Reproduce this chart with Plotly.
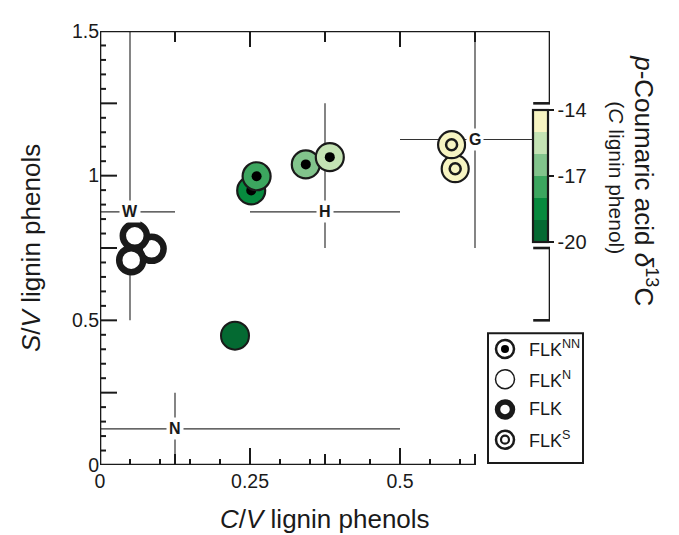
import plotly.graph_objects as go

# ---------------- data ----------------
flk_nn_x = [0.252, 0.261, 0.343, 0.383]
flk_nn_y = [0.949, 0.998, 1.039, 1.064]
flk_nn_d13c = [-18.5, -17.5, -16.5, -15.5]

flk_n_x = [0.225]
flk_n_y = [0.447]
flk_n_d13c = [-19.5]

flk_x = [0.086, 0.058, 0.052]
flk_y = [0.747, 0.792, 0.708]

flk_s_x = [0.592, 0.586]
flk_s_y = [1.024, 1.107]
flk_s_d13c = [-14.5, -14.5]

ref_labels = ["W", "H", "G", "N"]
ref_x = [0.05, 0.375, 0.625, 0.125]
ref_y = [0.875, 0.875, 1.125, 0.125]
ref_xmin = [0.0, 0.25, 0.5, 0.0]
ref_xmax = [0.125, 0.5, 0.72, 0.5]
ref_ymin = [0.5, 0.75, 0.75, 0.0]
ref_ymax = [1.5, 1.25, 1.5, 0.25]

band_colors = ["#046a32", "#078a3e", "#3ca65f", "#82c48c", "#c4e3b4", "#f7f4c2"]  # -20 .. -14
cbar_tickvals = [-14, -17, -20]
cbar_ticktext = ["-14", "-17", "-20"]

x_tickvals = [0, 0.25, 0.5]
x_ticktext = ["0", "0.25", "0.5"]
y_tickvals = [0, 0.5, 1, 1.5]
y_ticktext = ["0", "0.5", "1", "1.5"]

legend_labels = ["FLK<sup>NN</sup>", "FLK<sup>N</sup>", "FLK", "FLK<sup>S</sup>"]

# ---------------- styling ----------------
FONT = "Arial, Liberation Sans, Helvetica, sans-serif"
INK = "#1a1a1a"
LINE = "#333333"

# plot area in pixels (page coordinates of the reference)
PL, PR, PT, PB = 100, 550, 20, 465
PW, PH = PR - PL, PB - PT
def px(xp):
    return (xp - PL) / PW
def py(yp):
    return (PB - yp) / PH

colorscale = []
n = len(band_colors)
for i, c in enumerate(band_colors):
    colorscale.append([i / n, c])
    colorscale.append([(i + 1) / n, c])

fig = go.Figure()

# colored FLK^NN points (circle + central dot, drawn one by one for proper overlap)
for i in range(len(flk_nn_x)):
    fig.add_trace(go.Scatter(
        x=[flk_nn_x[i]], y=[flk_nn_y[i]], mode="markers", showlegend=False,
        marker=dict(size=28, color=[flk_nn_d13c[i]], coloraxis="coloraxis",
                    line=dict(width=2.2, color=INK))))
    fig.add_trace(go.Scatter(
        x=[flk_nn_x[i]], y=[flk_nn_y[i]], mode="markers", showlegend=False,
        marker=dict(size=10, color="black", line=dict(width=0))))

# FLK^N
fig.add_trace(go.Scatter(
    x=flk_n_x, y=flk_n_y, mode="markers", showlegend=False,
    marker=dict(size=28, color=flk_n_d13c, coloraxis="coloraxis",
                line=dict(width=2, color=INK))))

# FLK (no isotope data -> white)
fig.add_trace(go.Scatter(
    x=flk_x, y=flk_y, mode="markers", showlegend=False,
    marker=dict(size=24, color="white", line=dict(width=6.5, color=INK))))

# FLK^S (circle + inner ring)
for i in range(len(flk_s_x)):
    fig.add_trace(go.Scatter(
        x=[flk_s_x[i]], y=[flk_s_y[i]], mode="markers", showlegend=False,
        marker=dict(size=27, color=[flk_s_d13c[i]], coloraxis="coloraxis",
                    line=dict(width=2.2, color=INK))))
    fig.add_trace(go.Scatter(
        x=[flk_s_x[i]], y=[flk_s_y[i]], mode="markers", showlegend=False,
        marker=dict(size=11, symbol="circle-open", color=INK, line=dict(width=2.5, color=INK))))

shapes = []
annotations = []

# reference crosshairs
for lab, cx, cy, x0, x1, y0, y1 in zip(ref_labels, ref_x, ref_y, ref_xmin, ref_xmax, ref_ymin, ref_ymax):
    shapes.append(dict(type="line", xref="x", yref="y", x0=x0, x1=x1, y0=cy, y1=cy,
                       line=dict(color=LINE, width=1.2), layer="below"))
    shapes.append(dict(type="line", xref="x", yref="y", x0=cx, x1=cx, y0=y0, y1=y1,
                       line=dict(color=LINE, width=1.2), layer="below"))
    annotations.append(dict(x=cx, y=cy, xref="x", yref="y", text="<b>%s</b>" % lab,
                            xanchor="center", yanchor="middle",
                            showarrow=False, bgcolor="white", borderpad=2,
                            font=dict(family=FONT, size=16, color=INK)))

# frame lines
AX_W = 2.6
def seg(x0, y0, x1, y1, w=AX_W):
    shapes.append(dict(type="line", xref="x", yref="y", x0=x0, x1=x1, y0=y0, y1=y1,
                       line=dict(color=INK, width=w), layer="above"))

seg(0, 0, 0, 1.5)          # left
seg(0, 0, 0.625, 0)        # bottom
seg(0, 1.5, 0.75, 1.5)     # top
seg(0.75, 1.5, 0.75, 1.25)  # right bracket (upper)
seg(0.722, 1.25, 0.75, 1.25)
seg(0.75, 0.75, 0.75, 0.5)  # right bracket (lower)
seg(0.722, 0.75, 0.75, 0.75)
seg(0.722, 0.5, 0.75, 0.5)

# ticks
TW = 2.0
def vtick(xv, yanchor, length):
    shapes.append(dict(type="line", xref="x", yref="y", ysizemode="pixel", yanchor=yanchor,
                       x0=xv, x1=xv, y0=0, y1=length, line=dict(color=INK, width=TW), layer="above"))
def htick(yv, length):
    shapes.append(dict(type="line", xref="x", yref="y", xsizemode="pixel", xanchor=0,
                       x0=0, x1=length, y0=yv, y1=yv, line=dict(color=INK, width=TW), layer="above"))

for k in range(1, 13):            # bottom: every 0.05
    xv = round(k * 0.05, 3)
    vtick(xv, 0, 17 if k % 5 == 0 else 6)
for xv in [0.125, 0.375, 0.625]:
    vtick(xv, 0, 11)
for xv in [0.125, 0.375, 0.625]:  # top
    vtick(xv, 1.5, -11)
for xv in [0.25, 0.5]:
    vtick(xv, 1.5, -16)
for k in range(1, 30):            # left: every 0.05
    yv = round(k * 0.05, 3)
    htick(yv, 17 if k % 5 == 0 else 6)

# legend box + entries
LEG_L, LEG_R, LEG_T, LEG_B = 488, 583, 330, 463
ROW0, ROWSTEP = 346, 31
shapes.append(dict(type="rect", xref="paper", yref="paper", x0=px(LEG_L), x1=px(LEG_R),
                   y0=py(LEG_B), y1=py(LEG_T),
                   line=dict(color=INK, width=2), fillcolor="white", layer="below"))

rows = list(range(len(legend_labels)))
mk_x = (505 - LEG_L) / (PR - LEG_L)
tx_x = (527 - LEG_L) / (PR - LEG_L)
fig.add_trace(go.Scatter(x=[mk_x], y=[rows[0]], xaxis="x2", yaxis="y2", mode="markers", showlegend=False,
                         marker=dict(size=18, color="white", line=dict(width=2.5, color=INK))))
fig.add_trace(go.Scatter(x=[mk_x], y=[rows[0]], xaxis="x2", yaxis="y2", mode="markers", showlegend=False,
                         marker=dict(size=8, color="black")))
fig.add_trace(go.Scatter(x=[mk_x], y=[rows[1]], xaxis="x2", yaxis="y2", mode="markers", showlegend=False,
                         marker=dict(size=19, color="white", line=dict(width=1.5, color=INK))))
fig.add_trace(go.Scatter(x=[mk_x], y=[rows[2]], xaxis="x2", yaxis="y2", mode="markers", showlegend=False,
                         marker=dict(size=15, color="white", line=dict(width=5.5, color=INK))))
fig.add_trace(go.Scatter(x=[mk_x], y=[rows[3]], xaxis="x2", yaxis="y2", mode="markers", showlegend=False,
                         marker=dict(size=18, color="white", line=dict(width=2.5, color=INK))))
fig.add_trace(go.Scatter(x=[mk_x], y=[rows[3]], xaxis="x2", yaxis="y2", mode="markers", showlegend=False,
                         marker=dict(size=8, symbol="circle-open", color=INK, line=dict(width=2.2, color=INK))))
for r, lab in zip(rows, legend_labels):
    annotations.append(dict(x=tx_x, y=r, xref="x2", yref="y2", text=lab, showarrow=False,
                            xanchor="left", yanchor="middle", font=dict(family=FONT, size=18, color=INK)))

# axis titles
annotations.append(dict(x=0.5, y=py(520), xref="paper", yref="paper", xanchor="center", yanchor="middle",
                        text="<i>C</i>/<i>V</i> lignin phenols", showarrow=False,
                        font=dict(family=FONT, size=26, color=INK)))
annotations.append(dict(x=px(31), y=0.5, xref="paper", yref="paper", textangle=-90,
                        xanchor="center", yanchor="middle",
                        text="<i>S</i>/<i>V</i> lignin phenols", showarrow=False,
                        font=dict(family=FONT, size=26, color=INK)))
# colorbar titles
annotations.append(dict(x=px(646), y=py(173), xref="paper", yref="paper", textangle=90,
                        xanchor="center", yanchor="middle",
                        text="<i>p</i>-Coumaric acid <i>δ</i><sup>13</sup>C", showarrow=False,
                        font=dict(family=FONT, size=26, color=INK)))
annotations.append(dict(x=px(617), y=py(170), xref="paper", yref="paper", textangle=90,
                        xanchor="center", yanchor="middle",
                        text="(<i>C</i> lignin phenol)", showarrow=False,
                        font=dict(family=FONT, size=21, color=INK)))

# the page adds an 8 px body margin, so the figure is made 8 px smaller and shifted
OFF = 8
fig.update_layout(
    width=679 - OFF, height=535 - OFF,
    margin=dict(l=PL - OFF, r=679 - PR, t=PT - OFF, b=535 - PB),
    paper_bgcolor="white", plot_bgcolor="rgba(0,0,0,0)",
    font=dict(family=FONT, size=19, color=INK),
    showlegend=False,
    xaxis=dict(range=[0, 0.75], showgrid=False, zeroline=False, showline=False, ticks="",
               tickvals=x_tickvals, ticktext=x_ticktext, tickfont=dict(size=19.5),
               ticklabelstandoff=2),
    yaxis=dict(range=[0, 1.5], showgrid=False, zeroline=False, showline=False, ticks="",
               tickvals=y_tickvals, ticktext=y_ticktext, tickfont=dict(size=19.5)),
    xaxis2=dict(domain=[px(LEG_L), 1.0], range=[0, 1], anchor="y2", visible=False, fixedrange=True),
    yaxis2=dict(domain=[py(LEG_B), py(LEG_T)],
                range=[(LEG_B - ROW0) / ROWSTEP, (LEG_T - ROW0) / ROWSTEP],
                anchor="x2", visible=False, fixedrange=True),
    coloraxis=dict(
        colorscale=colorscale, cmin=-20, cmax=-14,
        colorbar=dict(x=px(533), xanchor="left", y=py(169), yanchor="middle",
                      len=132, lenmode="pixels", thickness=15, thicknessmode="pixels",
                      outlinewidth=2.2, outlinecolor=INK, xpad=0, ypad=0,
                      tickvals=cbar_tickvals, ticktext=cbar_ticktext, ticks="outside",
                      ticklen=5, tickwidth=2, tickcolor=INK, tickfont=dict(size=20, family=FONT))),
    shapes=shapes, annotations=annotations,
)

fig.write_html("out.html")
